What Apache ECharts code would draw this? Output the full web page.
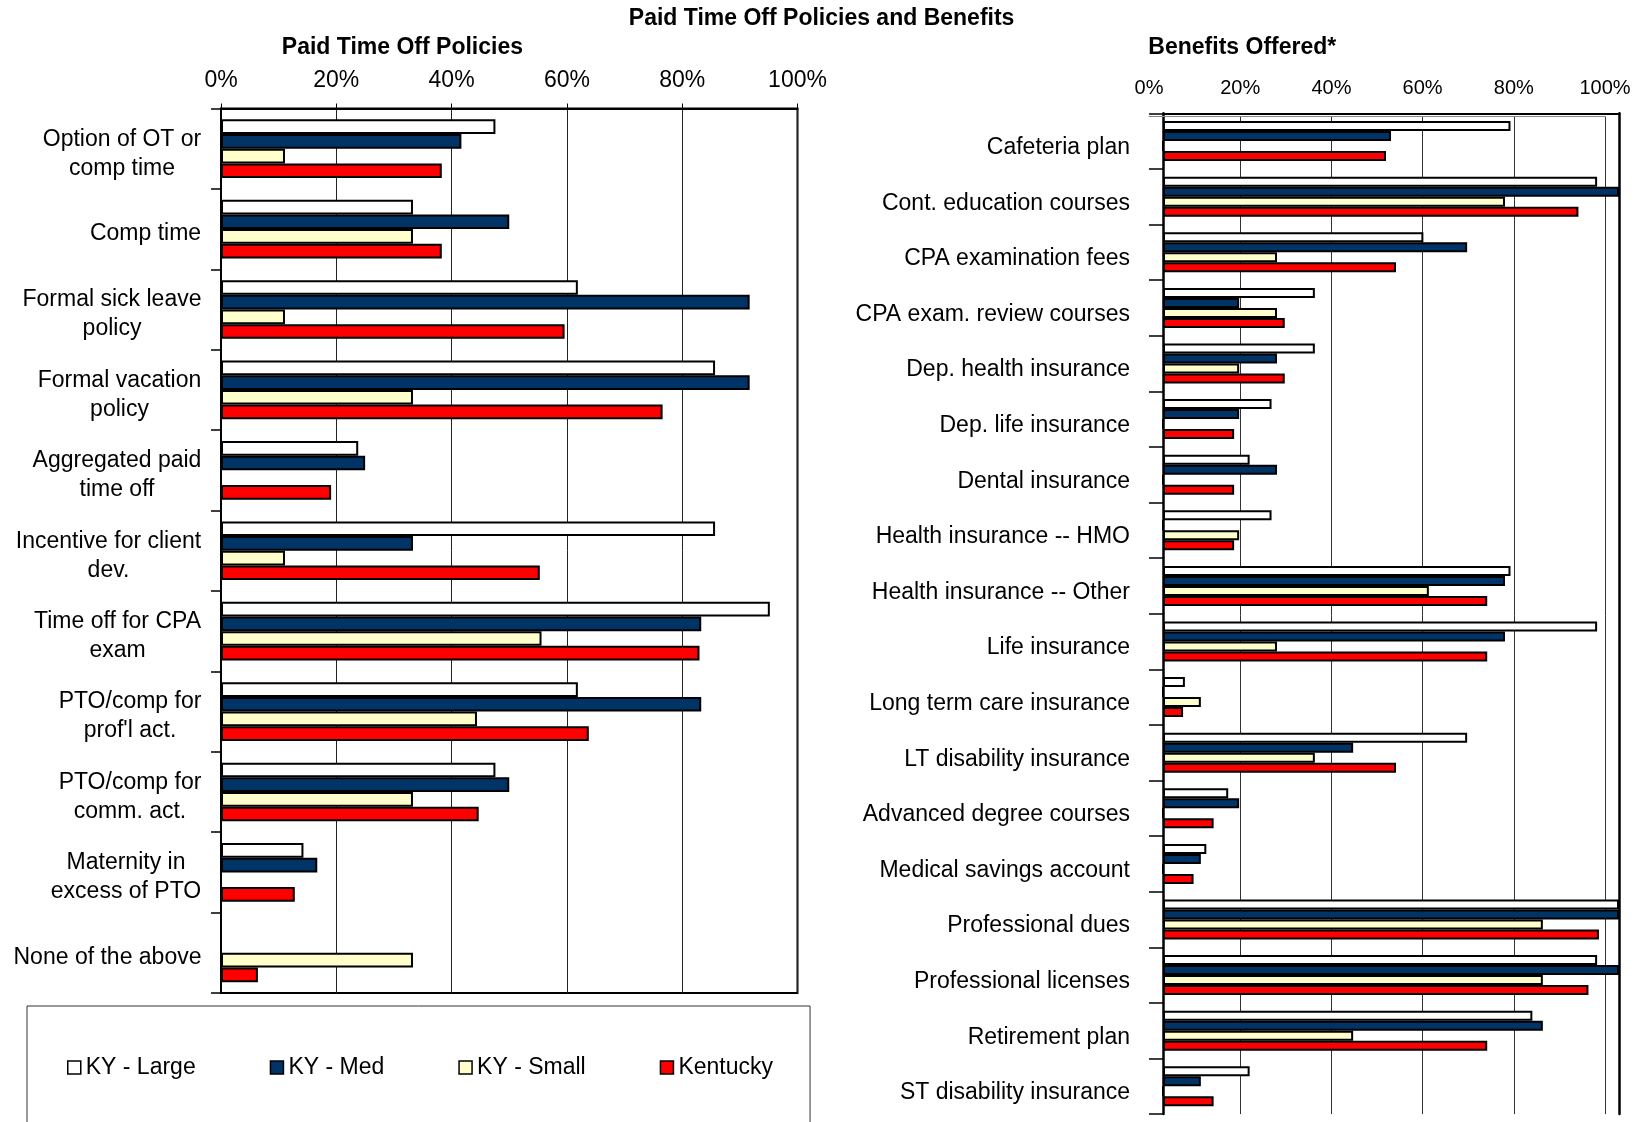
<!DOCTYPE html>
<html><head><meta charset="utf-8">
<script src="https://cdn.jsdelivr.net/npm/echarts@6/dist/echarts.min.js"></script>
<style>html,body{margin:0;padding:0;background:#fff}#c{width:1641px;height:1122px}</style>
</head><body><div id="c"></div>
<script>
const seriesNames = ['KY - Large', 'KY - Med', 'KY - Small', 'Kentucky'];
const seriesColors = ['#ffffff', '#003366', '#ffffcc', '#ff0000'];

const ptoCategories = ['Option of OT or\ncomp time', 'Comp time', 'Formal sick leave\npolicy', 'Formal vacation\npolicy',
  'Aggregated paid\ntime off', 'Incentive for client\ndev.', 'Time off for CPA\nexam', "PTO/comp for\nprof'l act.",
  'PTO/comp for\ncomm. act.', 'Maternity in\nexcess of PTO', 'None of the above'];
const ptoLarge    = [47.6, 33.3, 61.9, 85.7, 23.8, 85.7, 95.2, 61.9, 47.6, 14.3, 0];
const ptoMed      = [41.7, 50.0, 91.7, 91.7, 25.0, 33.3, 83.3, 83.3, 50.0, 16.7, 0];
const ptoSmall    = [11.1, 33.3, 11.1, 33.3, 0, 11.1, 55.6, 44.4, 33.3, 0, 33.3];
const ptoKentucky = [38.3, 38.3, 59.6, 76.6, 19.1, 55.3, 83.0, 63.8, 44.7, 12.8, 6.4];

const benefitCategories = ['Cafeteria plan', 'Cont. education courses', 'CPA examination fees', 'CPA exam. review courses',
  'Dep. health insurance', 'Dep. life insurance', 'Dental insurance', 'Health insurance -- HMO', 'Health insurance -- Other',
  'Life insurance', 'Long term care insurance', 'LT disability insurance', 'Advanced degree courses', 'Medical savings account',
  'Professional dues', 'Professional licenses', 'Retirement plan', 'ST disability insurance'];
const benLarge    = [76.2, 95.2, 57.1, 33.3, 33.3, 23.8, 19.0, 23.8, 76.2, 95.2, 4.8, 66.7, 14.3, 9.5, 100, 95.2, 81.0, 19.0];
const benMed      = [50.0, 100, 66.7, 16.7, 25.0, 16.7, 25.0, 0, 75.0, 75.0, 0, 41.7, 16.7, 8.3, 100, 100, 83.3, 8.3];
const benSmall    = [0, 75.0, 25.0, 25.0, 16.7, 0, 0, 16.7, 58.3, 25.0, 8.3, 33.3, 0, 0, 83.3, 83.3, 41.7, 0];
const benKentucky = [48.9, 91.1, 51.1, 26.7, 26.7, 15.6, 15.6, 15.6, 71.1, 71.1, 4.4, 51.1, 11.1, 6.7, 95.6, 93.3, 71.1, 11.1];

const FONT = '"Liberation Sans", Arial, sans-serif';
const ptoData = [ptoLarge, ptoMed, ptoSmall, ptoKentucky];
const benData = [benLarge, benMed, benSmall, benKentucky];

const mctx = document.createElement('canvas').getContext('2d');
mctx.font = '23px ' + FONT;
const ptoRich = {};
ptoCategories.forEach((c, i) => {
  const w = Math.ceil(Math.max(...c.split('\n').map(l => mctx.measureText(l).width))) + 1;
  ptoRich['c' + i] = { width: w, align: 'center', fontSize: 23, lineHeight: 29, fontFamily: FONT, color: '#000' };
});

const chart = echarts.init(document.getElementById('c'), null, { renderer: 'canvas' });
const titleStyle = { fontSize: 23, fontWeight: 'bold', color: '#000', fontFamily: FONT };

const series = [];
seriesNames.forEach((n, s) => {
  series.push({
    type: 'bar', name: n, xAxisIndex: 0, yAxisIndex: 0, data: ptoData[s],
    barGap: '0%', barCategoryGap: '27%', animation: false,
    itemStyle: { color: seriesColors[s], borderColor: '#000', borderWidth: 2 }
  });
});
seriesNames.forEach((n, s) => {
  series.push({
    type: 'bar', name: n, xAxisIndex: 2, yAxisIndex: 2, data: benData[s],
    barGap: '0%', barCategoryGap: '28%', animation: false,
    itemStyle: { color: seriesColors[s], borderColor: '#000', borderWidth: 2 }
  });
});

chart.setOption({
  animation: false,
  backgroundColor: '#fff',
  title: [
    { text: 'Paid Time Off Policies and Benefits', left: 821.6, top: 7, textAlign: 'center', padding: 0, textStyle: titleStyle },
    { text: 'Paid Time Off Policies', left: 402.4, top: 36, textAlign: 'center', padding: 0, textStyle: titleStyle },
    { text: 'Benefits Offered*', left: 1242.3, top: 36, textAlign: 'center', padding: 0, textStyle: titleStyle }
  ],
  legend: {
    data: seriesNames, left: 27, top: 1006, orient: 'horizontal',
    padding: [50, 37, 80, 40], itemGap: 74, itemWidth: 13, itemHeight: 13, icon: 'rect',
    borderColor: '#333', borderWidth: 1, backgroundColor: '#fff',
    itemStyle: { borderColor: '#000', borderWidth: 1.5 },
    textStyle: { fontSize: 23, color: '#000', fontFamily: FONT }
  },
  grid: [
    { left: 221, top: 108.5, width: 576.5, height: 884.5, show: true, borderColor: '#000', borderWidth: 2, backgroundColor: 'transparent' },
    { left: 1149, top: 116.7, width: 456, height: 997.4 },
    { left: 1163, top: 113.3, width: 456, height: 1000.8 }
  ],
  xAxis: [
    {
      gridIndex: 0, type: 'value', position: 'top', min: 0, max: 100, interval: 20,
      axisLine: { show: true, lineStyle: { color: '#000', width: 2 } },
      axisTick: { show: true, length: 5, lineStyle: { color: '#000' } },
      axisLabel: { formatter: '{value}%', fontSize: 23, color: '#000', fontFamily: FONT, margin: 16 },
      splitLine: { show: true, lineStyle: { color: '#222', width: 1 } }
    },
    {
      gridIndex: 1, type: 'value', position: 'top', min: 0, max: 100, interval: 20,
      axisLine: { show: true, lineStyle: { color: '#888', width: 1 } },
      axisTick: { show: false },
      axisLabel: { formatter: '{value}%', fontSize: 20, color: '#000', fontFamily: FONT, margin: 18 },
      splitLine: { show: true, showMinLine: false, lineStyle: { color: '#333', width: 1 } }
    },
    {
      gridIndex: 2, type: 'value', position: 'top', min: 0, max: 100,
      axisLine: { show: true, lineStyle: { color: '#000', width: 2 } },
      axisTick: { show: false }, axisLabel: { show: false }, splitLine: { show: false }
    }
  ],
  yAxis: [
    {
      gridIndex: 0, type: 'category', data: ptoCategories, inverse: true,
      axisLine: { show: true, lineStyle: { color: '#000', width: 2 } },
      axisTick: { show: true, length: 10, lineStyle: { color: '#000', width: 1.5 } },
      axisLabel: {
        interval: 0, margin: 19, padding: [10, 0, 0, 0], rich: ptoRich,
        formatter: (v, i) => v.split('\n').map(l => '{c' + i + '|' + l + '}').join('\n')
      },
      splitLine: { show: false }
    },
    { gridIndex: 1, type: 'category', data: benefitCategories, inverse: true, show: false },
    {
      gridIndex: 2, type: 'category', data: benefitCategories, inverse: true,
      axisLine: { show: true, lineStyle: { color: '#000', width: 2.5 } },
      axisTick: { show: true, length: 14, lineStyle: { color: '#000', width: 1.5 } },
      axisLabel: {
        interval: 0, margin: 33, padding: [13, 0, 0, 0],
        rich: { b: { fontSize: 23, color: '#000', fontFamily: FONT, lineHeight: 26 } },
        formatter: v => '{b|' + v + '}'
      },
      splitLine: { show: false }
    },
    {
      gridIndex: 2, type: 'category', data: benefitCategories, inverse: true, position: 'right',
      axisLine: { show: true, lineStyle: { color: '#000', width: 2.5 } },
      axisTick: { show: false }, axisLabel: { show: false }, splitLine: { show: false }
    }
  ],
  series: series
});
</script>
</body></html>
